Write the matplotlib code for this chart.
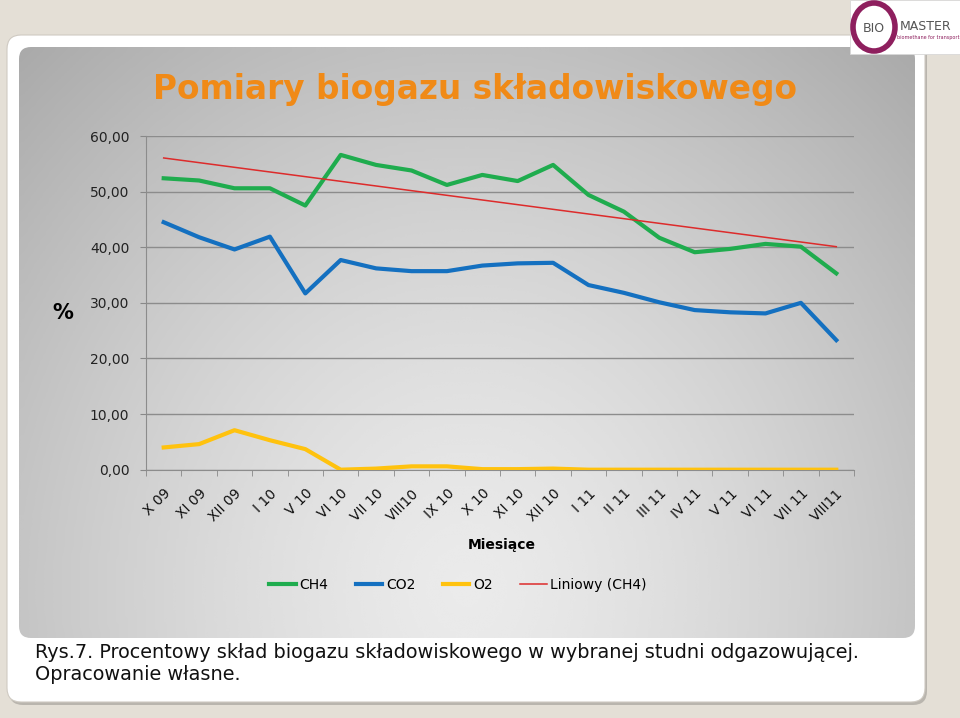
import numpy as np
import matplotlib
matplotlib.use('Agg')
import matplotlib.pyplot as plt
from matplotlib.patches import FancyBboxPatch, Rectangle, Ellipse

### data
months = ['X 09', 'XI 09', 'XII 09', 'I 10', 'V 10', 'VI 10', 'VII 10', 'VIII10',
          'IX 10', 'X 10', 'XI 10', 'XII 10', 'I 11', 'II 11', 'III 11', 'IV 11',
          'V 11', 'VI 11', 'VII 11', 'VIII11']
ch4 = [52.4, 52.0, 50.6, 50.6, 47.5, 56.6, 54.8, 53.8, 51.2, 53.0,
       51.9, 54.8, 49.4, 46.4, 41.7, 39.1, 39.7, 40.6, 40.1, 35.3]
co2 = [44.5, 41.8, 39.6, 41.9, 31.7, 37.7, 36.2, 35.7, 35.7, 36.7,
       37.1, 37.2, 33.2, 31.8, 30.1, 28.7, 28.3, 28.1, 30.0, 23.3]
o2 = [4.0, 4.6, 7.1, 5.3, 3.7, 0.0, 0.2, 0.6, 0.6, 0.1,
      0.1, 0.2, 0.0, 0.0, 0.0, 0.0, 0.0, 0.0, 0.0, 0.0]
yticks = [0, 10, 20, 30, 40, 50, 60]

W, H = 960, 718
fig = plt.figure(figsize=(9.6, 7.18), dpi=100)
fig.patch.set_facecolor('#e4dfd6')

# background layer in pixel coordinates
bg = fig.add_axes([0, 0, 1, 1])
bg.set_xlim(0, W)
bg.set_ylim(H, 0)
bg.axis('off')

# white slide card with a soft shadow
bg.add_patch(FancyBboxPatch((9, 38), 918, 667, boxstyle='round,pad=0,rounding_size=14',
                            fc='#b9b5ae', ec='none'))
bg.add_patch(FancyBboxPatch((7, 35), 918, 667, boxstyle='round,pad=0,rounding_size=14',
                            fc='white', ec='#cfcac2', lw=0.8))

# gray gradient panel behind the chart
px0, py0, pw, ph = 19, 47, 896, 591
panel = FancyBboxPatch((px0, py0), pw, ph, boxstyle='round,pad=0,rounding_size=12',
                       fc='none', ec='none')
bg.add_patch(panel)
gx, gy = np.meshgrid(np.linspace(0, 1, 300), np.linspace(0, 1, 200))
d = np.sqrt(((gx - 0.5) / 0.62) ** 2 + ((gy - 0.92) / 1.05) ** 2)
grad = np.clip(0.92 - 0.2 * d ** 1.4, 0, 1)
img = bg.imshow(grad, cmap='gray', vmin=0, vmax=1, extent=(px0, px0 + pw, py0 + ph, py0),
                aspect='auto', interpolation='bicubic', zorder=1)
img.set_clip_path(panel)

# logo box
bg.add_patch(Rectangle((850, 0), 110, 54, fc='white', ec='#d8d8d8', lw=0.6, zorder=3))
bg.add_patch(Ellipse((874, 27), 42, 48, fc='none', ec='#8e1f5e', lw=4, zorder=4))
bg.text(874, 29, 'BIO', fontsize=9, color='#555555', ha='center', va='center', zorder=5)
bg.text(926, 26, 'MASTER', fontsize=9, color='#555555', ha='center', va='center', zorder=5)
bg.text(928, 38, 'biomethane for transport', fontsize=3.5, color='#8e1f5e',
        ha='center', va='center', zorder=5)

# texts
bg.text(475, 90, 'Pomiary biogazu składowiskowego', fontsize=23.6, fontweight='bold',
        color='#f08a17', ha='center', va='center', zorder=5)
bg.text(63, 313, '%', fontsize=15, fontweight='bold', ha='center', va='center', zorder=5)
bg.text(502, 545, 'Miesiące', fontsize=10, fontweight='bold', ha='center', va='center', zorder=5)
bg.text(35, 652, 'Rys.7. Procentowy skład biogazu składowiskowego w wybranej studni odgazowującej.',
        fontsize=13.9, ha='left', va='center', color='#111111', zorder=5)
bg.text(35, 674, 'Opracowanie własne.', fontsize=13.9, ha='left', va='center',
        color='#111111', zorder=5)

# chart axes
ax = fig.add_axes([146 / W, 1 - 469.7 / H, 708 / W, 333.7 / H])
ax.patch.set_alpha(0)
x = np.arange(len(months))

slope, icpt = np.polyfit(x, ch4, 1)
ax.plot(x, ch4, color='#1fac4e', lw=3, solid_joinstyle='round', label='CH4', zorder=3)
ax.plot(x, co2, color='#1470c0', lw=3, solid_joinstyle='round', label='CO2', zorder=3)
ax.plot(x, o2, color='#ffc20e', lw=3, solid_joinstyle='round', label='O2', zorder=3)
ax.plot(x, slope * x + icpt, color='#dd2b2b', lw=1.1, label='Liniowy (CH4)', zorder=4)

ax.set_xlim(-0.5, len(months) - 0.5)
ax.set_ylim(0, 60)
ax.set_yticks(yticks)
ax.set_yticklabels(['{:.2f}'.format(v).replace('.', ',') for v in yticks], fontsize=10,
                   color='#222222')
ax.set_xticks(x)
ax.set_xticklabels(months, rotation=45, ha='right', rotation_mode='anchor', fontsize=10,
                   color='#111111')
ax.set_xticks(np.arange(-0.5, len(months)), minor=True)
ax.tick_params(axis='x', which='major', length=0, pad=12)
ax.tick_params(axis='x', which='minor', length=4, color='#888888')
ax.tick_params(axis='y', length=4, color='#888888', pad=8)
ax.grid(axis='y', color='#8c8c8c', lw=1)
ax.set_axisbelow(True)
for s in ['top', 'right']:
    ax.spines[s].set_visible(False)
ax.spines['left'].set_color('#8c8c8c')
ax.spines['bottom'].set_color('#8c8c8c')

fig.legend(loc='center', bbox_to_anchor=(458 / W, 1 - 585 / H), ncol=4, frameon=False,
           fontsize=10, handlelength=1.9, handletextpad=0.25, columnspacing=2.0)

fig.savefig('out.png', dpi=100, facecolor=fig.get_facecolor())
